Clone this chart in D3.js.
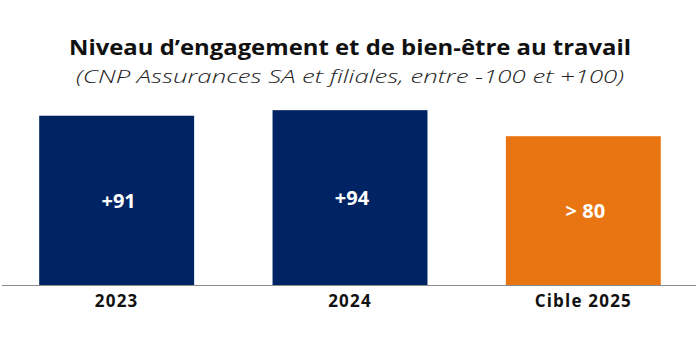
<!DOCTYPE html>
<html>
<head>
<meta charset="utf-8">
<script src="https://cdn.jsdelivr.net/npm/d3@7"></script>
<style>
  body { margin: 0; background: #fff; }
  svg { display: block; font-family: "Open Sans", Lato, sans-serif; }
</style>
</head>
<body>
<div id="viz"></div>
<script>
const categories = ['2023', '2024', 'Cible 2025']
const values = [91, 94, 80]
const valueLabels = ['+91', '+94', '> 80']
const colors = ['#002463', '#002463', '#E87511']

const w = 700, h = 338

const svg = d3.select('#viz')
    .append('svg')
    .attr('width', w)
    .attr('height', h)
    .attr('viewBox', [0, 0, w, h])

const baseY = 285

const x = d3.scaleBand()
    .domain(categories)
    .range([0, w])
    .paddingInner(0.336)
    .paddingOuter(0.168)

const y = d3.scaleLinear()
    .domain([0, 100])
    .range([baseY, 99])

const data = categories.map((c, i) => ({ cat: c, value: values[i], label: valueLabels[i], color: colors[i] }))

// title, stretched to the width seen in the picture
svg.append('text')
    .attr('x', w / 2)
    .attr('y', 55)
    .attr('text-anchor', 'middle')
    .attr('font-size', 21)
    .attr('font-weight', 700)
    .attr('fill', '#111')
    .attr('textLength', 562)
    .attr('lengthAdjust', 'spacingAndGlyphs')
    .text('Niveau d\u2019engagement et de bien-être au travail')

svg.append('text')
    .attr('x', w / 2)
    .attr('y', 83)
    .attr('text-anchor', 'middle')
    .attr('font-size', 19)
    .attr('font-style', 'italic')
    .attr('font-weight', 300)
    .attr('fill', '#222')
    .attr('textLength', 548)
    .attr('lengthAdjust', 'spacingAndGlyphs')
    .text('(CNP Assurances SA et filiales, entre -100 et +100)')

svg.selectAll('rect.bar')
    .data(data)
    .enter()
    .append('rect')
    .attr('class', 'bar')
    .attr('x', d => x(d.cat))
    .attr('y', d => y(d.value))
    .attr('width', x.bandwidth())
    .attr('height', d => y(0) - y(d.value))
    .attr('fill', d => d.color)

svg.selectAll('text.val')
    .data(data)
    .enter()
    .append('text')
    .attr('class', 'val')
    .attr('x', d => x(d.cat) + x.bandwidth() / 2 + 2)
    .attr('y', d => (y(d.value) + y(0)) / 2)
    .attr('dy', '0.36em')
    .attr('text-anchor', 'middle')
    .attr('font-size', 20)
    .attr('font-weight', 700)
    .attr('fill', '#fff')
    .text(d => d.label)

// axis
const xAxisG = svg.append('g')
    .attr('transform', `translate(0, ${baseY})`)
    .call(d3.axisBottom(x).tickSize(0).tickPadding(10))
xAxisG.select('.domain')
    .attr('d', `M2,0.5H696`)
    .attr('stroke', '#8a8a8a')
    .attr('stroke-width', 1.2)
xAxisG.selectAll('.tick text')
    .attr('font-size', 17)
    .attr('font-weight', 700)
    .attr('letter-spacing', 1.2)
    .attr('fill', '#111')
    .attr('font-family', '"Open Sans", Lato, sans-serif')
</script>
</body>
</html>
